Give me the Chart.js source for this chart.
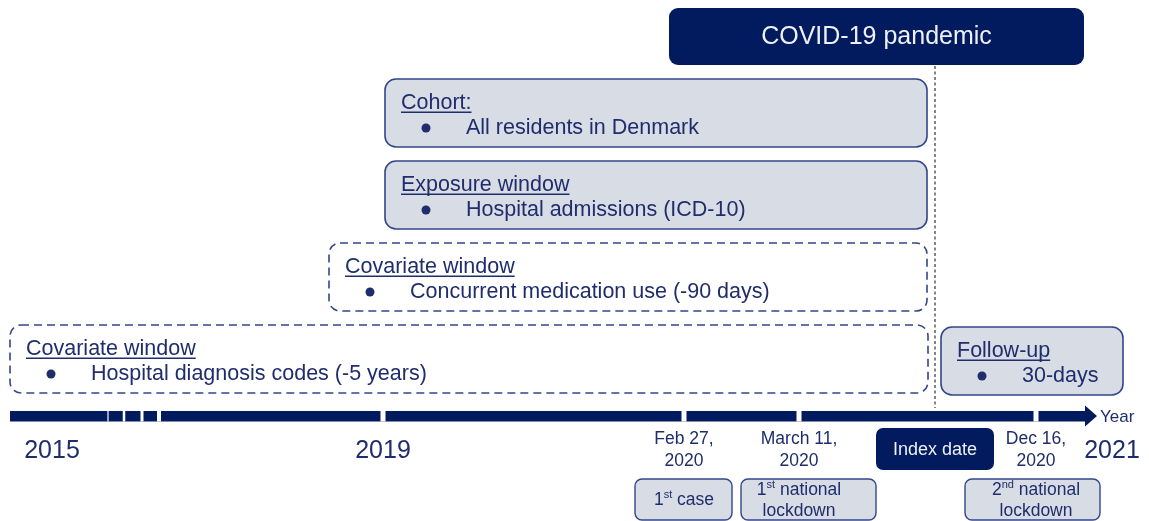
<!DOCTYPE html>
<html><head><meta charset="utf-8">
<script src="https://cdn.jsdelivr.net/npm/chart.js@4"></script>
<style>html,body{margin:0;padding:0;background:#fff;}canvas{display:block;}</style>
</head><body>
<canvas id="c" width="1149" height="521"></canvas>
<script>
// ---- data (timeline positions; the diagram is not drawn to scale) ----
const yearLabels = ['2015', '2019', '2021'];
const yearPos = [52, 383, 1112];
const minorTickPos = [108, 124, 142, 159];
const eventDates = [['Feb 27,', '2020'], ['March 11,', '2020'], ['Dec 16,', '2020']];
const eventPos = [684, 799, 1036];
const eventNotes = [['1^st^ case'], ['1^st^ national', 'lockdown'], ['2^nd^ national', 'lockdown']];
const windowTitles = ['Cohort:', 'Exposure window', 'Covariate window', 'Covariate window', 'Follow-up'];
const windowItems = ['All residents in Denmark', 'Hospital admissions (ICD-10)', 'Concurrent medication use (-90 days)', 'Hospital diagnosis codes (-5 years)', '30-days'];
const windowStart = [385, 385, 329, 10, 941];
const windowEnd = [927, 927, 927, 928, 1123];
const windowDashed = [false, false, true, true, false];
const pandemicLabel = 'COVID-19 pandemic';
const pandemicRange = [669, 1084];
const indexLabel = 'Index date';
const indexPos = 935;
const axisRange = [10, 1097];
const axisTitle = 'Year';

// ---- layout / styles ----
const FONT = '"Liberation Sans", Arial, Helvetica, sans-serif';
const NAVY = '#021b5f';
const TEXT = '#1f2d6c';
const BORDER = '#33468a';
const FILL = '#d8dce4';
const windowTop = [79, 161, 243, 325, 327];
const windowH = 68;
const noteBoxes = [[635, 732], [741, 876], [965, 1100]];

function rr(ctx, x, y, w, h, r) {
  ctx.beginPath();
  ctx.moveTo(x + r, y);
  ctx.arcTo(x + w, y, x + w, y + h, r);
  ctx.arcTo(x + w, y + h, x, y + h, r);
  ctx.arcTo(x, y + h, x, y, r);
  ctx.arcTo(x, y, x + w, y, r);
  ctx.closePath();
}
function parseRich(s) {
  const parts = s.split('^');
  return parts.map((t, i) => ({ t, sup: i % 2 === 1 })).filter(p => p.t.length);
}
function drawRich(ctx, s, cx, y, size) {
  const parts = parseRich(s);
  const supSize = Math.round(size * 0.62);
  let w = 0;
  parts.forEach(p => { ctx.font = (p.sup ? supSize : size) + 'px ' + FONT; p.w = ctx.measureText(p.t).width; w += p.w; });
  let x = cx - w / 2;
  ctx.textAlign = 'left';
  parts.forEach(p => {
    ctx.font = (p.sup ? supSize : size) + 'px ' + FONT;
    ctx.textBaseline = 'middle';
    ctx.fillText(p.t, x, p.sup ? y - size * 0.3 : y);
    x += p.w;
  });
}

const diagram = {
  id: 'diagram',
  afterDraw(chart) {
    const ctx = chart.ctx;
    const X = v => chart.scales.x.getPixelForValue(v);
    const Y = v => chart.scales.y.getPixelForValue(v);
    ctx.save();

    // pandemic box
    const px0 = X(pandemicRange[0]), px1 = X(pandemicRange[1]);
    rr(ctx, px0, Y(8), px1 - px0, Y(65) - Y(8), 9);
    ctx.fillStyle = NAVY; ctx.fill();
    ctx.fillStyle = '#eef0f5';
    ctx.font = '25px ' + FONT; ctx.textAlign = 'center'; ctx.textBaseline = 'middle';
    ctx.fillText(pandemicLabel, (px0 + px1) / 2, Y(37));

    // windows
    windowTitles.forEach((title, i) => {
      const x0 = X(windowStart[i]), x1 = X(windowEnd[i]);
      const y0 = Y(windowTop[i]), y1 = Y(windowTop[i] + windowH);
      rr(ctx, x0, y0, x1 - x0, y1 - y0, 11);
      ctx.lineWidth = 1.6;
      ctx.strokeStyle = BORDER;
      if (windowDashed[i]) {
        ctx.setLineDash([8, 5]);
      } else {
        ctx.fillStyle = FILL; ctx.fill();
        ctx.setLineDash([]);
      }
      ctx.stroke();
      ctx.setLineDash([]);
      // title underlined
      ctx.fillStyle = TEXT;
      ctx.font = '21.5px ' + FONT; ctx.textAlign = 'left'; ctx.textBaseline = 'alphabetic';
      const tx = x0 + 16, ty = y0 + 30;
      ctx.fillText(title, tx, ty);
      const tw = ctx.measureText(title).width;
      ctx.fillRect(tx, ty + 2.5, tw, 1.5);
      // bullet + item
      const by = y0 + 49;
      ctx.beginPath(); ctx.arc(x0 + 41, by, 4.5, 0, Math.PI * 2); ctx.fill();
      ctx.textBaseline = 'middle';
      ctx.fillText(windowItems[i], x0 + 81, by);
    });

    // index date dashed line
    ctx.strokeStyle = '#666';
    ctx.lineWidth = 1.6;
    ctx.setLineDash([3, 2.5]);
    ctx.beginPath(); ctx.moveTo(X(indexPos), Y(66)); ctx.lineTo(X(indexPos), Y(408)); ctx.stroke();
    ctx.setLineDash([]);

    // timeline axis
    const ay = Y(416);
    ctx.fillStyle = NAVY;
    ctx.fillRect(X(axisRange[0]), ay - 5, X(axisRange[1] - 12) - X(axisRange[0]), 10.5);
    ctx.beginPath();
    ctx.moveTo(X(axisRange[1] - 12), ay - 10.5);
    ctx.lineTo(X(axisRange[1]), ay);
    ctx.lineTo(X(axisRange[1] - 12), ay + 10.5);
    ctx.closePath(); ctx.fill();
    ctx.fillStyle = '#ffffff';
    const minorW = [1.2, 2.5, 3, 4];
    minorTickPos.forEach((p, i) => ctx.fillRect(X(p) - minorW[i] / 2, ay - 5, minorW[i], 10.5));
    [yearPos[1]].concat(eventPos).forEach(p => ctx.fillRect(X(p) - 2.5, ay - 5, 5, 10.5));

    // axis title
    ctx.fillStyle = TEXT;
    ctx.font = '17px ' + FONT; ctx.textAlign = 'left'; ctx.textBaseline = 'middle';
    ctx.fillText(axisTitle, X(axisRange[1]) + 3, ay + 1);

    // year labels
    ctx.font = '25px ' + FONT; ctx.textAlign = 'center';
    yearLabels.forEach((l, i) => ctx.fillText(l, X(yearPos[i]), Y(451)));

    // event dates
    ctx.font = '17.5px ' + FONT;
    eventDates.forEach((lines, i) => {
      lines.forEach((l, j) => ctx.fillText(l, X(eventPos[i]), Y(439 + j * 22)));
    });

    // index date box
    const ix = X(indexPos);
    rr(ctx, ix - 59, Y(428), 118, Y(470) - Y(428), 7);
    ctx.fillStyle = NAVY; ctx.fill();
    ctx.fillStyle = '#eef0f5';
    ctx.font = '18px ' + FONT; ctx.textAlign = 'center';
    ctx.fillText(indexLabel, ix, Y(450));

    // notes
    eventNotes.forEach((lines, i) => {
      const b = noteBoxes[i];
      const x0 = X(b[0]), x1 = X(b[1]);
      rr(ctx, x0, Y(479), x1 - x0, Y(520) - Y(479), 7);
      ctx.fillStyle = FILL; ctx.fill();
      ctx.strokeStyle = BORDER; ctx.lineWidth = 1.4; ctx.stroke();
      ctx.fillStyle = TEXT;
      const cx = X(eventPos[i]);
      if (lines.length === 1) drawRich(ctx, lines[0], cx, Y(500), 17.5);
      else lines.forEach((l, j) => drawRich(ctx, l, cx, Y(490 + j * 21), 17.5));
    });

    ctx.restore();
  }
};

new Chart(document.getElementById('c'), {
  type: 'scatter',
  data: { datasets: [{ data: [], showLine: false }] },
  options: {
    responsive: false,
    animation: false,
    events: [],
    layout: { padding: 0 },
    plugins: { legend: { display: false }, tooltip: { enabled: false }, title: { display: false } },
    scales: {
      x: { type: 'linear', min: 0, max: 1149, display: false },
      y: { type: 'linear', min: 0, max: 521, reverse: true, display: false }
    }
  },
  plugins: [diagram]
});
</script>
</body></html>
